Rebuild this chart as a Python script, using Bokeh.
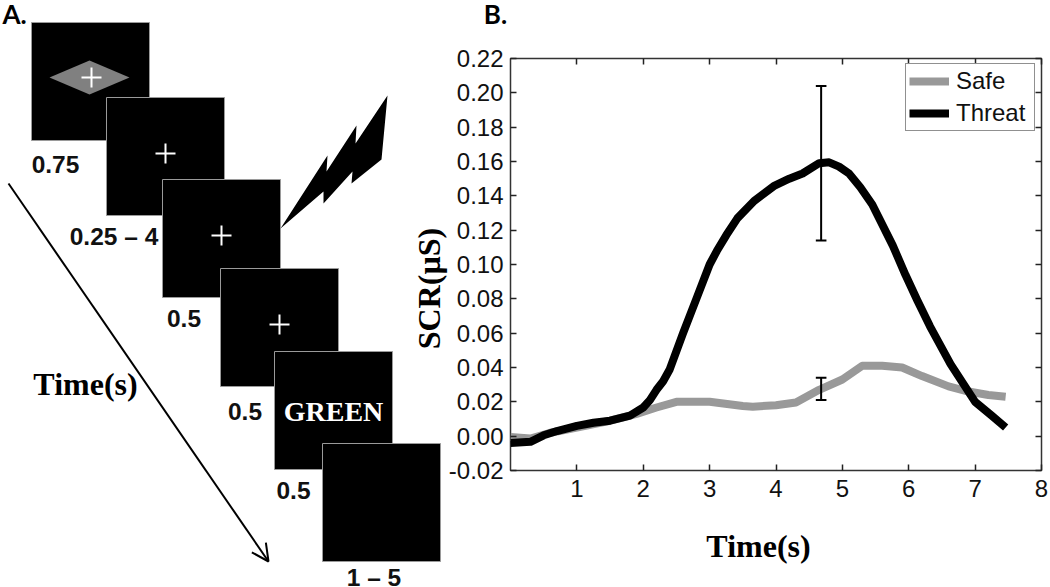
from bokeh.embed import file_html
from bokeh.resources import INLINE
from bokeh.plotting import figure
from bokeh.models import (Range1d, LinearAxis, FixedTicker, Legend, LegendItem,
                          Arrow, OpenHead)
from bokeh.core.properties import value

# ---- Panel B data
time_threat = [0.0, 0.3, 0.5, 0.7, 1.0, 1.25, 1.5, 1.8, 2.0, 2.1, 2.2, 2.3, 2.4, 2.6, 2.8, 3.0, 3.11, 3.25, 3.42,
               3.67, 3.98, 4.2, 4.4, 4.65, 4.8, 4.95, 5.1, 5.27, 5.45, 5.76, 5.95, 6.13, 6.32, 6.63, 7.0, 7.25, 7.46]
scr_threat = [-0.004, -0.0033, 0.0005, 0.003, 0.006, 0.0078, 0.009, 0.012, 0.0167, 0.021, 0.027, 0.032, 0.039, 0.06,
              0.08, 0.100, 0.108, 0.117, 0.127, 0.137, 0.146, 0.150, 0.153, 0.159, 0.1595, 0.157, 0.153, 0.145, 0.135,
              0.111, 0.094, 0.079, 0.064, 0.042, 0.02, 0.012, 0.005]
time_safe = [0.0, 0.3, 0.6, 1.0, 1.5, 1.9, 2.2, 2.5, 3.0, 3.5, 3.65, 4.0, 4.3, 4.65, 5.0, 5.3, 5.6, 5.9,
             6.2, 6.6, 6.9, 7.2, 7.46]
scr_safe = [-0.0005, -0.0014, 0.002, 0.005, 0.009, 0.013, 0.0167, 0.020, 0.020, 0.0176, 0.0172, 0.018,
            0.0196, 0.027, 0.033, 0.041, 0.041, 0.040, 0.035, 0.029, 0.026, 0.024, 0.023]
err_x = [4.68, 4.68]
err_low = [0.114, 0.021]
err_high = [0.204, 0.034]
x_ticks = [1, 2, 3, 4, 5, 6, 7, 8]
y_ticks = [-0.02, 0.0, 0.02, 0.04, 0.06, 0.08, 0.10, 0.12, 0.14, 0.16, 0.18, 0.20, 0.22]
y_tick_labels = {t: f"{t:.2f}" for t in y_ticks}

# ---- Panel A schematic (page pixels)
square_left = [31, 106, 162, 220, 274, 322]
square_top = [22, 97, 179, 268, 351, 443]
square_size = 118
diamond_x = [49, 89, 129, 89]
diamond_y = [77, 60, 77, 94]
cross_x = [91, 165, 221, 279]
cross_y = [77, 153, 235, 324]
bolt_x = [280, 327, 326, 356, 355, 387, 381, 351, 352, 323, 323]
bolt_y = [228, 155, 171, 125, 143, 95, 159, 183, 171, 203, 191]
duration_text = ["0.75", "0.25 \u2013 4", "0.5", "0.5", "0.5", "1 \u2013 5"]
duration_x = [55, 113.5, 183.5, 244.5, 293, 373.5]
duration_y = [164, 236, 318, 411, 490, 577]

# Full-page sheet, drawn under the transparent chart
sheet = figure(width=1050, height=587, x_range=Range1d(0, 1050), y_range=Range1d(587, 0),
               output_backend="svg", toolbar_location=None, min_border=0, outline_line_color=None,
               styles={"position": "absolute", "left": "0px", "top": "0px"})
sheet.axis.visible = False
sheet.grid.visible = False
sheet.quad(left=square_left,
           right=[v + square_size for v in square_left],
           top=square_top,
           bottom=[v + square_size for v in square_top],
           fill_color="black", line_color="#9a9a9a", line_width=1)
sheet.patch(diamond_x, diamond_y, fill_color="#808080", line_color=None)
for cx, cy in zip(cross_x, cross_y):
    sheet.line([cx - 10, cx + 10], [cy, cy], line_color="white", line_width=2)
    sheet.line([cx, cx], [cy - 10, cy + 10], line_color="white", line_width=2)
sheet.patch(bolt_x, bolt_y, fill_color="black", line_color=None)
sheet.add_layout(Arrow(end=OpenHead(size=17, line_width=2, line_color="black"),
                       x_start=8, y_start=183, x_end=268, y_end=561,
                       line_width=2, line_color="black"))
sheet.text(duration_x, duration_y, text=duration_text, text_font=value("Liberation Sans"),
           text_font_style="bold", text_font_size="24.5px", text_align="center", text_baseline="middle",
           text_color="#111111")
sheet.text([85], [383], text=["Time(s)"], text_font=value("Liberation Serif"), text_font_style="bold",
           text_font_size="32px", text_align="center", text_baseline="middle", text_color="black")
sheet.text([333], [411], text=["GREEN"], text_font=value("Liberation Serif"), text_font_style="bold",
           text_font_size="28px", text_align="center", text_baseline="middle", text_color="white")
sheet.text([14, 495], [13, 13], text=["A.", "B."], text_font=value("Lato"), text_font_style="bold",
           text_font_size="26px", text_align="center", text_baseline="middle", text_color="black")
sheet.text([758], [545], text=["Time(s)"], text_font=value("Liberation Serif"), text_font_style="bold",
           text_font_size="32px", text_align="center", text_baseline="middle", text_color="black")
sheet.text([428], [288], text=["SCR(\u00b5S)"], angle=[90], angle_units="deg",
           text_font=value("Liberation Serif"), text_font_style="bold",
           text_font_size="32px", text_align="center", text_baseline="middle", text_color="black")

# ---- Panel B chart
FRAME_L, FRAME_R, FRAME_T, FRAME_B = 510, 1041, 58, 470
ORIGIN = 445
p = figure(width=1050 - ORIGIN, height=587, x_range=Range1d(0, 8), y_range=Range1d(-0.02, 0.22),
           output_backend="svg", toolbar_location=None,
           min_border_left=FRAME_L - ORIGIN, min_border_right=1050 - FRAME_R,
           min_border_top=FRAME_T, min_border_bottom=587 - FRAME_B,
           background_fill_alpha=0, border_fill_alpha=0,
           outline_line_color="#333333", outline_line_width=1.5,
           styles={"position": "absolute", "left": f"{ORIGIN}px", "top": "0px"})
p.grid.visible = False

def style(ax):
    ax.major_tick_in = 6
    ax.major_tick_out = 0
    ax.minor_tick_in = 0
    ax.minor_tick_out = 0
    ax.major_tick_line_color = "#222222"
    ax.major_tick_line_width = 1.5
    ax.axis_line_color = None

p.xaxis.ticker = FixedTicker(ticks=x_ticks)
p.yaxis.ticker = FixedTicker(ticks=y_ticks)
p.yaxis.major_label_overrides = y_tick_labels
for ax in (p.xaxis[0], p.yaxis[0]):
    style(ax)
    ax.major_label_text_font = "Liberation Sans"
    ax.major_label_text_font_size = "24px"
    ax.major_label_text_color = "#111111"
p.xaxis[0].major_label_standoff = 9
p.yaxis[0].major_label_standoff = 7

top_axis = LinearAxis(ticker=FixedTicker(ticks=x_ticks), major_label_overrides={t: "" for t in x_ticks})
right_axis = LinearAxis(ticker=FixedTicker(ticks=y_ticks), major_label_overrides={t: "" for t in y_ticks})
style(top_axis)
style(right_axis)
p.add_layout(top_axis, "above")
p.add_layout(right_axis, "right")

safe = p.line(time_safe, scr_safe, line_color="#999999", line_width=8, line_join="round")
threat = p.line(time_threat, scr_threat, line_color="black", line_width=8, line_join="round")
p.segment(err_x, err_low, err_x, err_high, line_color="black", line_width=2)
cap = 0.08
p.segment([v - cap for v in err_x], err_low, [v + cap for v in err_x], err_low, line_color="black", line_width=2)
p.segment([v - cap for v in err_x], err_high, [v + cap for v in err_x], err_high, line_color="black", line_width=2)

legend = Legend(items=[LegendItem(label="Safe", renderers=[safe]), LegendItem(label="Threat", renderers=[threat])],
                location=(395, 339), margin=0)
legend.border_line_color = "#222222"
legend.border_line_width = 1.5
legend.label_text_font = "Liberation Sans"
legend.label_text_font_size = "24px"
legend.label_text_color = "#111111"
legend.glyph_width = 40
legend.glyph_height = 20
legend.label_width = 75
legend.spacing = 4
legend.padding = 3
legend.label_standoff = 7
p.add_layout(legend, "center")

open("out.html", "w").write(file_html([sheet, p], INLINE))
